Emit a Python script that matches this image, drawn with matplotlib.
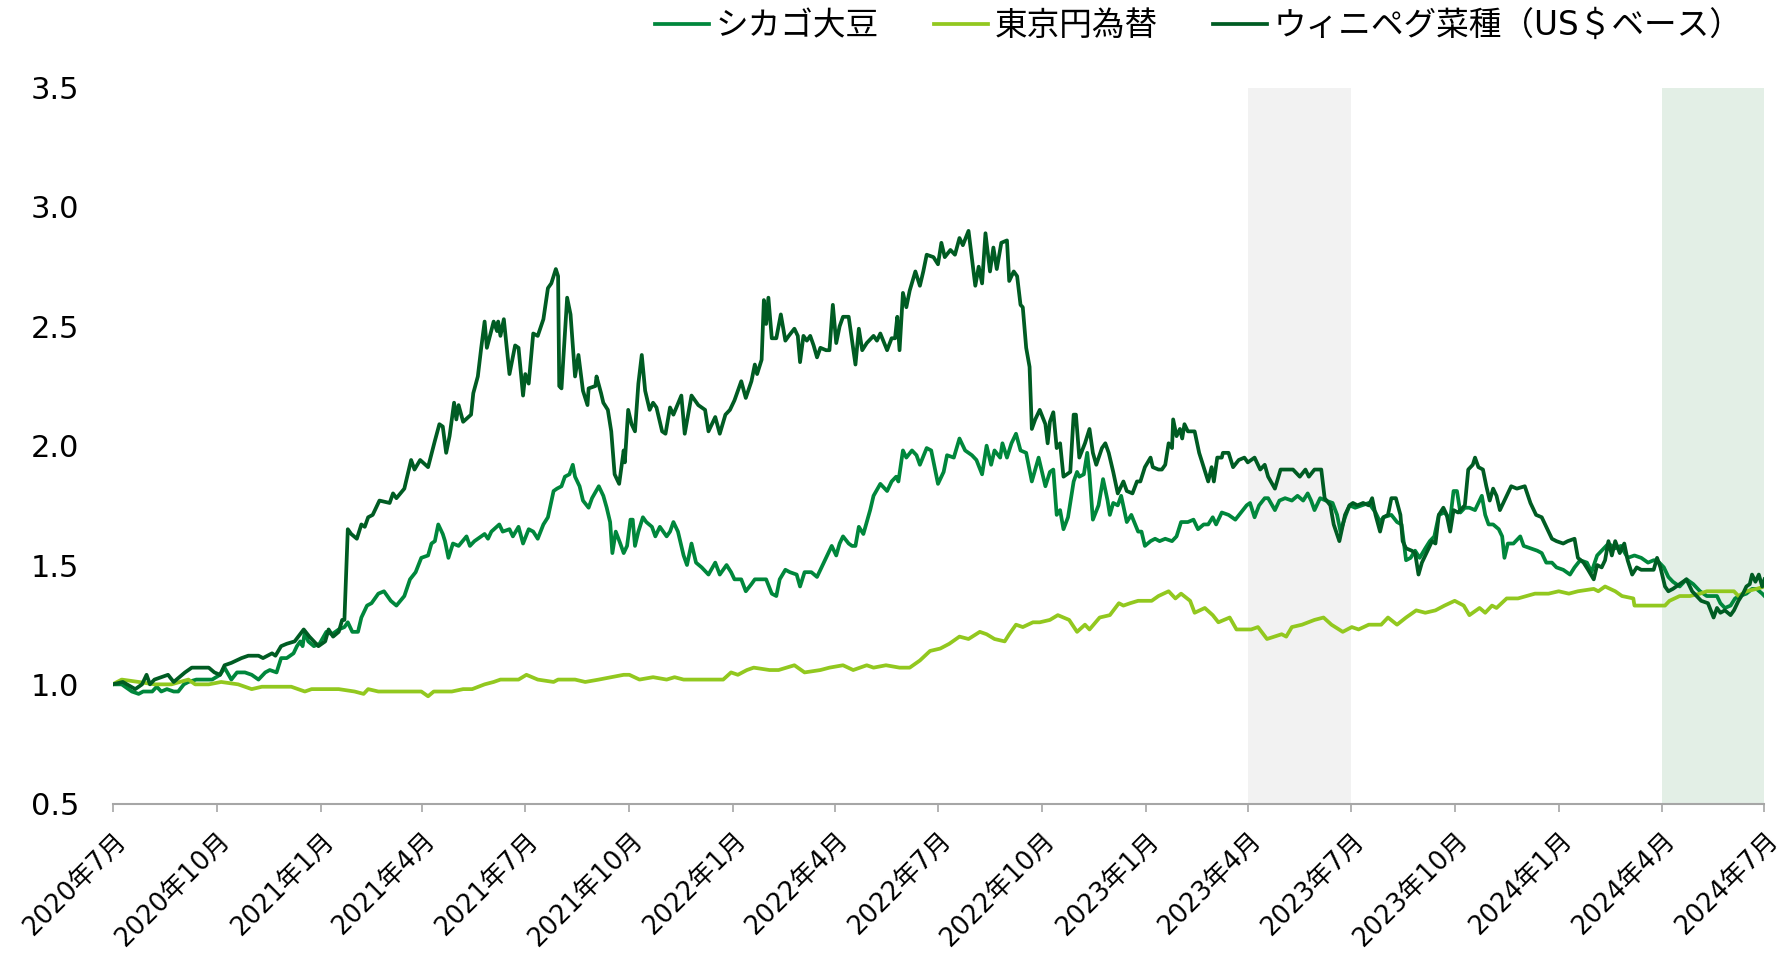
import pandas as pd
import matplotlib
matplotlib.use("Agg")
import matplotlib.pyplot as plt
from matplotlib.ticker import FormatStrFormatter

plt.rcParams["font.family"] = ["DejaVu Sans", "Noto Sans CJK JP"]

# index, 2020/7/1 = 1.0 ; (days since 2020-07-01, value)
start = pd.Timestamp("2020-07-01")
end = pd.Timestamp("2024-07-01")

soy = [
    (0, 1.00), (8, 1.00), (17, 0.97), (23, 0.96), (27, 0.97), (30, 0.97), (35, 0.97), (39, 0.99),
    (43, 0.97), (48, 0.98), (54, 0.97), (58, 0.97), (63, 1.00), (67, 1.01), (74, 1.02), (82, 1.02),
    (88, 1.02), (95, 1.04), (99, 1.07), (105, 1.02), (110, 1.05), (117, 1.05), (123, 1.04), (129, 1.02),
    (135, 1.05), (139, 1.06), (145, 1.05), (149, 1.11), (154, 1.11), (160, 1.13), (163, 1.16), (166, 1.18),
    (168, 1.16), (170, 1.22), (173, 1.18), (178, 1.16), (183, 1.17), (189, 1.22), (194, 1.21), (200, 1.23),
    (205, 1.24), (208, 1.26), (212, 1.22), (217, 1.22), (220, 1.28), (225, 1.33), (229, 1.34), (235, 1.38),
    (240, 1.39), (246, 1.35), (251, 1.33), (258, 1.37), (263, 1.44), (268, 1.47), (273, 1.53), (279, 1.54),
    (282, 1.59), (285, 1.60), (288, 1.67), (292, 1.63), (294, 1.60), (297, 1.53), (301, 1.59), (306, 1.58),
    (313, 1.62), (316, 1.58), (320, 1.60), (329, 1.63), (332, 1.61), (335, 1.64), (342, 1.67), (345, 1.64),
    (351, 1.65), (354, 1.62), (359, 1.66), (363, 1.59), (368, 1.65), (372, 1.64), (376, 1.61), (381, 1.67),
    (385, 1.70), (390, 1.81), (393, 1.82), (397, 1.83), (400, 1.87), (404, 1.88), (407, 1.92), (409, 1.87),
    (413, 1.83), (416, 1.77), (421, 1.74), (424, 1.78), (430, 1.83), (434, 1.79), (437, 1.74), (440, 1.68),
    (442, 1.55), (445, 1.64), (449, 1.59), (452, 1.55), (455, 1.58), (458, 1.69), (460, 1.69), (462, 1.58),
    (465, 1.64), (469, 1.70), (472, 1.68), (477, 1.66), (480, 1.62), (484, 1.66), (487, 1.64), (490, 1.62),
    (493, 1.64), (496, 1.68), (500, 1.64), (505, 1.54), (508, 1.50), (512, 1.59), (516, 1.51), (521, 1.49),
    (527, 1.46), (533, 1.51), (537, 1.46), (543, 1.50), (547, 1.47), (550, 1.44), (556, 1.44), (560, 1.39),
    (565, 1.42), (568, 1.44), (572, 1.44), (578, 1.44), (583, 1.38), (587, 1.37), (590, 1.44), (595, 1.48),
    (599, 1.47), (605, 1.46), (608, 1.41), (612, 1.47), (618, 1.47), (623, 1.45), (629, 1.51), (633, 1.55),
    (636, 1.58), (640, 1.54), (643, 1.59), (646, 1.62), (651, 1.59), (654, 1.58), (657, 1.58), (660, 1.66),
    (664, 1.63), (670, 1.73), (673, 1.79), (679, 1.84), (685, 1.81), (689, 1.85), (693, 1.87), (695, 1.85),
    (699, 1.98), (702, 1.95), (707, 1.98), (711, 1.96), (714, 1.92), (720, 1.99), (724, 1.98), (730, 1.84),
    (735, 1.89), (738, 1.96), (744, 1.95), (749, 2.03), (754, 1.98), (760, 1.96), (764, 1.94), (769, 1.88),
    (773, 2.00), (777, 1.92), (780, 1.98), (785, 1.95), (787, 2.01), (791, 1.95), (795, 2.01), (799, 2.05),
    (803, 1.98), (808, 1.97), (813, 1.85), (819, 1.95), (825, 1.83), (829, 1.89), (832, 1.90), (835, 1.71),
    (838, 1.73), (841, 1.65), (845, 1.70), (850, 1.85), (853, 1.89), (855, 1.87), (859, 1.88), (862, 1.97),
    (864, 1.88), (867, 1.69), (872, 1.75), (876, 1.86), (880, 1.77), (882, 1.71), (885, 1.76), (889, 1.75),
    (892, 1.79), (897, 1.68), (901, 1.71), (907, 1.64), (910, 1.64), (913, 1.58), (918, 1.60), (922, 1.61),
    (926, 1.60), (931, 1.61), (937, 1.60), (941, 1.62), (945, 1.68), (951, 1.68), (956, 1.69), (960, 1.65),
    (965, 1.67), (969, 1.67), (973, 1.70), (976, 1.67), (981, 1.72), (987, 1.71), (993, 1.69), (998, 1.72),
    (1003, 1.75), (1006, 1.76), (1010, 1.70), (1014, 1.75), (1019, 1.78), (1022, 1.78), (1028, 1.73),
    (1032, 1.77), (1037, 1.78), (1043, 1.77), (1048, 1.79), (1053, 1.77), (1057, 1.80), (1060, 1.77),
    (1063, 1.73), (1068, 1.78), (1073, 1.77), (1079, 1.76), (1083, 1.71), (1086, 1.64), (1090, 1.70),
    (1094, 1.75), (1099, 1.74), (1105, 1.75), (1111, 1.76), (1117, 1.72), (1121, 1.68), (1124, 1.70),
    (1131, 1.71), (1136, 1.68), (1140, 1.67), (1144, 1.52), (1148, 1.53), (1152, 1.56), (1156, 1.53),
    (1161, 1.57), (1165, 1.60), (1169, 1.62), (1173, 1.71), (1178, 1.72), (1183, 1.69), (1186, 1.81),
    (1189, 1.81), (1192, 1.72), (1196, 1.74), (1200, 1.74), (1205, 1.73), (1211, 1.79), (1214, 1.71),
    (1217, 1.67), (1221, 1.67), (1226, 1.65), (1229, 1.62), (1231, 1.53), (1234, 1.59), (1239, 1.59),
    (1245, 1.62), (1248, 1.58), (1254, 1.57), (1260, 1.56), (1264, 1.55), (1268, 1.51), (1273, 1.51),
    (1277, 1.49), (1283, 1.48), (1289, 1.46), (1293, 1.49), (1298, 1.52), (1304, 1.51), (1308, 1.47),
    (1313, 1.54), (1317, 1.56), (1323, 1.59), (1329, 1.57), (1334, 1.58), (1340, 1.53), (1346, 1.54),
    (1352, 1.53), (1358, 1.51), (1363, 1.52), (1366, 1.52), (1372, 1.49), (1376, 1.45), (1380, 1.43),
    (1386, 1.41), (1392, 1.44), (1398, 1.42), (1404, 1.39), (1410, 1.37), (1414, 1.37), (1419, 1.37),
    (1422, 1.34), (1426, 1.32), (1431, 1.33), (1435, 1.36), (1439, 1.37), (1445, 1.38), (1450, 1.40),
    (1454, 1.40), (1459, 1.38), (1461, 1.37),
]

jpy = [
    (0, 1.00), (8, 1.02), (23, 1.01), (37, 1.00), (52, 1.00), (67, 1.02), (73, 1.00), (85, 1.00),
    (96, 1.01), (111, 1.00), (123, 0.98), (132, 0.99), (138, 0.99), (147, 0.99), (158, 0.99), (170, 0.97),
    (176, 0.98), (188, 0.98), (200, 0.98), (214, 0.97), (222, 0.96), (226, 0.98), (235, 0.97), (250, 0.97),
    (264, 0.97), (273, 0.97), (279, 0.95), (284, 0.97), (300, 0.97), (310, 0.98), (318, 0.98), (329, 1.00),
    (337, 1.01), (343, 1.02), (359, 1.02), (366, 1.04), (376, 1.02), (390, 1.01), (394, 1.02), (409, 1.02),
    (418, 1.01), (430, 1.02), (441, 1.03), (452, 1.04), (457, 1.04), (466, 1.02), (478, 1.03), (490, 1.02),
    (497, 1.03), (505, 1.02), (522, 1.02), (540, 1.02), (547, 1.05), (553, 1.04), (561, 1.06), (567, 1.07),
    (581, 1.06), (589, 1.06), (596, 1.07), (603, 1.08), (612, 1.05), (626, 1.06), (634, 1.07), (646, 1.08),
    (655, 1.06), (667, 1.08), (673, 1.07), (684, 1.08), (696, 1.07), (705, 1.07), (714, 1.10), (723, 1.14),
    (732, 1.15), (740, 1.17), (749, 1.20), (757, 1.19), (767, 1.22), (773, 1.21), (780, 1.19), (789, 1.18),
    (793, 1.21), (799, 1.25), (805, 1.24), (814, 1.26), (820, 1.26), (829, 1.27), (836, 1.29), (846, 1.27),
    (853, 1.22), (860, 1.25), (864, 1.23), (873, 1.28), (882, 1.29), (890, 1.34), (894, 1.33), (900, 1.34),
    (907, 1.35), (919, 1.35), (925, 1.37), (934, 1.39), (940, 1.36), (945, 1.38), (953, 1.35), (957, 1.30),
    (966, 1.32), (973, 1.29), (978, 1.26), (988, 1.28), (994, 1.23), (1007, 1.23), (1013, 1.24),
    (1021, 1.19), (1034, 1.21), (1038, 1.20), (1043, 1.24), (1052, 1.25), (1063, 1.27), (1071, 1.28),
    (1078, 1.25), (1088, 1.22), (1096, 1.24), (1102, 1.23), (1111, 1.25), (1122, 1.25), (1128, 1.28),
    (1136, 1.25), (1144, 1.28), (1153, 1.31), (1161, 1.30), (1170, 1.31), (1178, 1.33), (1187, 1.35),
    (1195, 1.33), (1200, 1.29), (1209, 1.32), (1214, 1.30), (1220, 1.33), (1224, 1.32), (1233, 1.36),
    (1243, 1.36), (1258, 1.38), (1270, 1.38), (1279, 1.39), (1288, 1.38), (1296, 1.39), (1310, 1.40),
    (1314, 1.39), (1320, 1.41), (1329, 1.39), (1335, 1.37), (1345, 1.36), (1346, 1.33), (1355, 1.33),
    (1363, 1.33), (1373, 1.33), (1377, 1.35), (1386, 1.37), (1395, 1.37), (1404, 1.38), (1410, 1.39),
    (1422, 1.39), (1434, 1.39), (1438, 1.37), (1445, 1.39), (1454, 1.40), (1461, 1.41),
]

canola = [
    (0, 1.00), (9, 1.01), (20, 0.98), (26, 1.00), (30, 1.04), (33, 1.00), (37, 1.02), (49, 1.04),
    (54, 1.01), (64, 1.05), (70, 1.07), (79, 1.07), (85, 1.07), (90, 1.05), (95, 1.04), (99, 1.08),
    (105, 1.09), (114, 1.11), (120, 1.12), (129, 1.12), (133, 1.11), (141, 1.13), (144, 1.12), (149, 1.16),
    (154, 1.17), (161, 1.18), (169, 1.23), (174, 1.20), (182, 1.16), (188, 1.18), (191, 1.23), (195, 1.20),
    (200, 1.22), (203, 1.27), (205, 1.27), (208, 1.65), (211, 1.63), (216, 1.61), (220, 1.67), (223, 1.66),
    (226, 1.70), (230, 1.71), (236, 1.77), (245, 1.76), (248, 1.80), (251, 1.78), (258, 1.82), (261, 1.88),
    (264, 1.94), (267, 1.90), (272, 1.94), (279, 1.91), (285, 2.02), (289, 2.09), (292, 2.08), (295, 1.97),
    (298, 2.04), (302, 2.18), (304, 2.11), (306, 2.17), (310, 2.10), (317, 2.13), (319, 2.22), (323, 2.29),
    (326, 2.41), (329, 2.52), (331, 2.41), (337, 2.52), (340, 2.48), (341, 2.52), (343, 2.46), (346, 2.53),
    (351, 2.30), (356, 2.42), (359, 2.41), (363, 2.21), (365, 2.30), (368, 2.26), (372, 2.47), (376, 2.46),
    (381, 2.53), (385, 2.66), (388, 2.68), (392, 2.74), (394, 2.71), (395, 2.25), (397, 2.24), (402, 2.62),
    (405, 2.55), (409, 2.29), (412, 2.38), (416, 2.23), (420, 2.17), (421, 2.24), (427, 2.25), (428, 2.29),
    (432, 2.22), (434, 2.18), (438, 2.15), (441, 2.06), (444, 1.88), (448, 1.84), (452, 1.98), (453, 1.93),
    (456, 2.15), (459, 2.09), (462, 2.06), (465, 2.26), (468, 2.38), (471, 2.23), (475, 2.15), (478, 2.18),
    (481, 2.16), (486, 2.06), (489, 2.05), (493, 2.16), (496, 2.13), (503, 2.21), (506, 2.05), (509, 2.13),
    (512, 2.21), (518, 2.17), (524, 2.15), (527, 2.06), (533, 2.12), (537, 2.05), (542, 2.13), (546, 2.15),
    (550, 2.19), (556, 2.27), (560, 2.20), (565, 2.27), (568, 2.34), (570, 2.30), (574, 2.36), (576, 2.61),
    (578, 2.51), (580, 2.62), (583, 2.45), (587, 2.45), (591, 2.55), (595, 2.44), (598, 2.46), (603, 2.49),
    (606, 2.46), (608, 2.35), (611, 2.46), (614, 2.44), (617, 2.46), (620, 2.42), (623, 2.37), (626, 2.41),
    (631, 2.40), (634, 2.40), (637, 2.59), (640, 2.43), (643, 2.50), (646, 2.54), (651, 2.54), (654, 2.44),
    (657, 2.34), (660, 2.49), (663, 2.40), (667, 2.43), (673, 2.46), (676, 2.44), (679, 2.47), (685, 2.40),
    (689, 2.45), (692, 2.45), (694, 2.54), (696, 2.40), (699, 2.64), (702, 2.58), (705, 2.65), (710, 2.73),
    (714, 2.67), (717, 2.73), (720, 2.80), (726, 2.79), (730, 2.76), (733, 2.85), (736, 2.79), (741, 2.82),
    (745, 2.80), (749, 2.87), (752, 2.84), (757, 2.90), (763, 2.67), (766, 2.75), (769, 2.68), (772, 2.89),
    (776, 2.73), (779, 2.83), (782, 2.74), (786, 2.85), (791, 2.86), (793, 2.69), (797, 2.73), (800, 2.71),
    (803, 2.59), (805, 2.58), (808, 2.41), (811, 2.33), (813, 2.07), (816, 2.11), (820, 2.15), (825, 2.09),
    (827, 2.01), (829, 2.10), (832, 2.14), (835, 1.99), (838, 2.01), (841, 1.87), (844, 1.88), (847, 1.89),
    (850, 2.13), (852, 2.13), (855, 1.95), (860, 2.01), (864, 2.07), (867, 1.97), (870, 1.92), (875, 1.99),
    (878, 2.01), (881, 1.97), (885, 1.89), (889, 1.80), (894, 1.85), (897, 1.81), (902, 1.80), (906, 1.85),
    (909, 1.85), (913, 1.91), (918, 1.95), (920, 1.91), (925, 1.90), (928, 1.90), (931, 1.92), (934, 2.01),
    (937, 1.99), (938, 2.11), (941, 2.04), (944, 2.07), (946, 2.03), (948, 2.09), (951, 2.06), (957, 2.06),
    (961, 1.97), (965, 1.91), (969, 1.85), (972, 1.91), (974, 1.85), (977, 1.95), (981, 1.95), (982, 1.97),
    (987, 1.97), (991, 1.91), (996, 1.94), (1001, 1.95), (1004, 1.93), (1010, 1.95), (1015, 1.90),
    (1019, 1.92), (1022, 1.87), (1028, 1.82), (1033, 1.90), (1038, 1.90), (1044, 1.90), (1050, 1.87),
    (1055, 1.90), (1058, 1.87), (1063, 1.90), (1069, 1.90), (1072, 1.78), (1077, 1.75), (1080, 1.67),
    (1085, 1.60), (1090, 1.71), (1094, 1.75), (1097, 1.76), (1101, 1.75), (1106, 1.76), (1111, 1.75),
    (1114, 1.78), (1117, 1.71), (1121, 1.64), (1124, 1.70), (1128, 1.71), (1131, 1.78), (1135, 1.78),
    (1139, 1.71), (1141, 1.60), (1144, 1.57), (1149, 1.56), (1152, 1.55), (1155, 1.46), (1158, 1.51),
    (1162, 1.55), (1167, 1.60), (1170, 1.59), (1173, 1.71), (1177, 1.74), (1180, 1.71), (1183, 1.64),
    (1186, 1.73), (1190, 1.72), (1196, 1.75), (1199, 1.90), (1203, 1.92), (1205, 1.95), (1208, 1.91),
    (1212, 1.90), (1215, 1.83), (1218, 1.77), (1221, 1.82), (1224, 1.79), (1227, 1.73), (1231, 1.77),
    (1237, 1.83), (1242, 1.82), (1249, 1.83), (1254, 1.76), (1259, 1.71), (1264, 1.70), (1268, 1.66),
    (1273, 1.61), (1277, 1.60), (1283, 1.59), (1287, 1.60), (1293, 1.61), (1296, 1.53), (1301, 1.51),
    (1305, 1.48), (1310, 1.44), (1313, 1.50), (1317, 1.49), (1320, 1.52), (1323, 1.60), (1326, 1.54),
    (1329, 1.60), (1333, 1.55), (1337, 1.59), (1340, 1.52), (1344, 1.46), (1348, 1.49), (1352, 1.48),
    (1358, 1.48), (1363, 1.48), (1366, 1.53), (1369, 1.49), (1373, 1.41), (1376, 1.39), (1380, 1.40),
    (1386, 1.42), (1392, 1.44), (1397, 1.39), (1401, 1.37), (1405, 1.35), (1411, 1.34), (1416, 1.28),
    (1419, 1.32), (1422, 1.30), (1426, 1.31), (1431, 1.29), (1434, 1.31), (1438, 1.35), (1442, 1.38),
    (1445, 1.41), (1448, 1.42), (1450, 1.46), (1453, 1.43), (1456, 1.46), (1459, 1.41), (1461, 1.44),
]

series = [soy, jpy, canola]
labels = ["シカゴ大豆", "東京円為替", "ウィニペグ菜種（US＄ベース）"]
colors = ["#00873C", "#92C81F", "#005C23"]

# shaded periods
spans = [("2023-04-01", "2023-07-01", "#F2F2F2"), ("2024-04-01", "2024-07-01", "#E3EFE6")]

quarters = pd.date_range(start, end, freq="3MS")
tick_labels = [f"{d.year}年{d.month}月" for d in quarters]

fig = plt.figure(figsize=(17.85, 9.57), dpi=100)
ax = fig.add_axes([0.0631, 0.1602, 0.9254, 0.7482])

for s, e, c in spans:
    ax.axvspan(pd.Timestamp(s), pd.Timestamp(e), color=c, lw=0, zorder=0)

for data, lab, col in zip(series, labels, colors):
    dates = start + pd.to_timedelta([p[0] for p in data], unit="D")
    ax.plot(dates, [p[1] for p in data], color=col, lw=2.7, label=lab, zorder=3)

ax.set_xlim(start, end)
ax.set_ylim(0.5, 3.5)
ax.set_yticks([0.5, 1.0, 1.5, 2.0, 2.5, 3.0, 3.5])
ax.yaxis.set_major_formatter(FormatStrFormatter("%.1f"))
ax.set_xticks(quarters)
ax.set_xticklabels(tick_labels, rotation=45, ha="right", rotation_mode="anchor")

for side in ["top", "right", "left"]:
    ax.spines[side].set_visible(False)
ax.spines["bottom"].set_color("#A6A6A6")
ax.spines["bottom"].set_linewidth(1.5)

ax.tick_params(axis="y", length=0, pad=24, labelsize=22)
ax.tick_params(axis="x", length=6, width=1.2, color="#A6A6A6", labelsize=18.5, pad=11)

fig.legend(loc="center right", bbox_to_anchor=(0.976, 0.973), ncol=3, frameon=False,
           fontsize=23.5, handlelength=1.65, handletextpad=0.2, columnspacing=1.7,
           borderaxespad=0, borderpad=0)

fig.savefig("out.png", dpi=100)
